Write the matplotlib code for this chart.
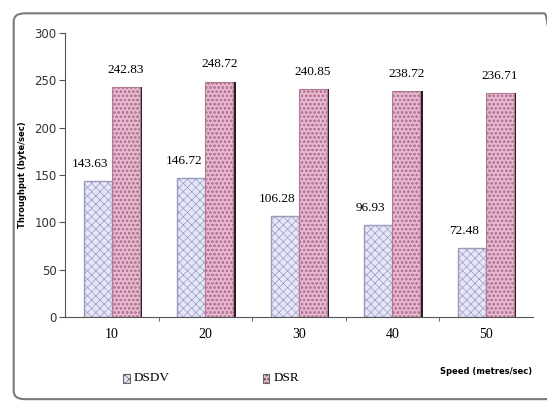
import matplotlib
matplotlib.use("Agg")
import matplotlib.pyplot as plt
import numpy as np
from matplotlib.patches import FancyBboxPatch

speeds = ["10", "20", "30", "40", "50"]
dsdv = [143.63, 146.72, 106.28, 96.93, 72.48]
dsr = [242.83, 248.72, 240.85, 238.72, 236.71]
yticks = [0, 50, 100, 150, 200, 250, 300]

plt.rcParams["hatch.linewidth"] = 0.5

fig = plt.figure(figsize=(5.47, 4.04), dpi=100)
fig.patch.set_facecolor("white")

# rounded outer frame
frame = FancyBboxPatch((0.025, 0.012), 0.99, 0.955, transform=fig.transFigure,
                       boxstyle="round,pad=0,rounding_size=0.02",
                       facecolor="none", edgecolor="#7a7a7a", linewidth=1.5,
                       zorder=-1)
fig.patches.append(frame)

ax = fig.add_axes([0.1188, 0.2153, 0.855, 0.703])
ax.set_facecolor("none")
x = np.arange(len(speeds))
w = 0.3

ax.bar(x - w / 2, dsdv, w, color="#e6e6fb", edgecolor="#9a9ab8",
       hatch="xxxx", linewidth=1.0, zorder=2)
ax.bar(x + w / 2, dsr, w, color="#e9b6cf", edgecolor="#b07a95",
       hatch="oooo", linewidth=0.8, zorder=2)
# dark right-hand shadow on DSR bars
ax.bar(x + w + 0.012, dsr, 0.025, color="#2a1a22", linewidth=0, zorder=1.5)

serif = ["Liberation Serif", "DejaVu Serif"]
for xi, v in zip(x, dsdv):
    ax.text(xi - w / 2 - 0.08, v + 12, f"{v:.2f}", ha="center", va="bottom",
            fontsize=9.5, family=serif)
for xi, v in zip(x, dsr):
    ax.text(xi + w / 2, v + 12, f"{v:.2f}", ha="center", va="bottom",
            fontsize=9.5, family=serif)

ax.set_xlim(-0.5, 4.5)
ax.set_ylim(0, 300)
ax.set_yticks(yticks)
ax.set_yticklabels([str(t) for t in yticks], fontsize=8.5,
                   family=["DejaVu Sans"], color="#333333")
ax.set_xticks(x)
ax.set_xticklabels(speeds, fontsize=10, family=serif)
ax.set_xticks(np.arange(0.5, 4.5, 1), minor=True)
ax.tick_params(axis="x", which="major", length=0, pad=8)
ax.tick_params(axis="x", which="minor", length=3, color="#555555")
ax.tick_params(axis="y", length=4, color="#555555", pad=2)
for s in ["top", "right"]:
    ax.spines[s].set_visible(False)
ax.spines["left"].set_color("#555555")
ax.spines["bottom"].set_color("#555555")

ax.set_ylabel("Throughput (byte/sec)", fontsize=6, fontweight="bold",
              family=["DejaVu Sans"], labelpad=5)

# legend entries drawn below the axis
lx1, lx2, ly = 0.225, 0.48, 0.065
fig.patches.append(plt.Rectangle((lx1, ly - 0.012), 0.012, 0.022,
                                 transform=fig.transFigure, facecolor="#e6e6fb",
                                 edgecolor="#666666", hatch="xxxx", linewidth=0.8))
fig.text(lx1 + 0.02, ly, "DSDV", fontsize=9.5, family=serif, va="center")
fig.patches.append(plt.Rectangle((lx2, ly - 0.012), 0.012, 0.022,
                                 transform=fig.transFigure, facecolor="#e9b6cf",
                                 edgecolor="#666666", hatch="oooo", linewidth=0.8))
fig.text(lx2 + 0.02, ly, "DSR", fontsize=9.5, family=serif, va="center")

fig.text(0.805, 0.08, "Speed (metres/sec)", fontsize=6, fontweight="bold",
         family=["DejaVu Sans"], va="center")

fig.savefig("out.png", dpi=100, facecolor="white")
